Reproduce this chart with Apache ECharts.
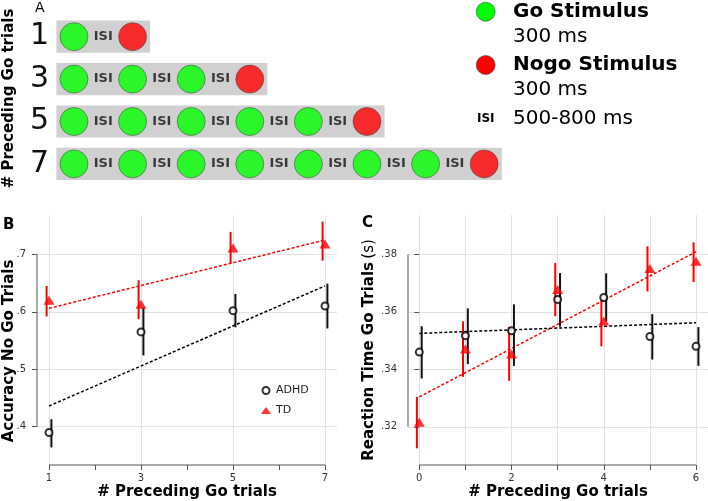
<!DOCTYPE html>
<html>
<head>
<meta charset="utf-8">
<script src="https://cdn.jsdelivr.net/npm/echarts@6.0.0/dist/echarts.min.js"></script>
<style>
html,body{margin:0;padding:0;background:#fff;}
#chart{width:708px;height:501px;}
</style>
</head>
<body>
<div id="chart"></div>
<script>
// panel A: trial sequences
var rowLabels = ['1', '3', '5', '7'];
var goCounts = [1, 3, 5, 7];

// panel B: accuracy on no-go trials
var accX = [1, 3, 5, 7];
var accAdhd = [0.390, 0.565, 0.602, 0.610];
var accAdhdLo = [0.364, 0.524, 0.573, 0.571];
var accAdhdHi = [0.413, 0.607, 0.631, 0.649];
var accTd = [0.620, 0.613, 0.711, 0.718];
var accTdLo = [0.592, 0.587, 0.684, 0.689];
var accTdHi = [0.645, 0.655, 0.739, 0.757];
var accFitX = [1, 7];
var accAdhdFit = [0.436, 0.645];
var accTdFit = [0.606, 0.725];
var accTicks = [0.4, 0.5, 0.6, 0.7];

// panel C: reaction time on go trials
var rtX = [0, 1, 2, 3, 4, 5, 6];
var rtAdhd = [0.3460, 0.3517, 0.3534, 0.3643, 0.3650, 0.3514, 0.3480];
var rtAdhdLo = [0.3368, 0.3418, 0.3412, 0.3548, 0.3567, 0.3434, 0.3412];
var rtAdhdHi = [0.3550, 0.3612, 0.3626, 0.3735, 0.3734, 0.3592, 0.3547];
var rtTd = [0.3216, 0.3471, 0.3453, 0.3678, 0.3568, 0.3751, 0.3776];
var rtTdLo = [0.3125, 0.3374, 0.3360, 0.3585, 0.3480, 0.3671, 0.3704];
var rtTdHi = [0.3304, 0.3567, 0.3548, 0.3770, 0.3643, 0.3828, 0.3842];
var rtFitX = [0, 6];
var rtAdhdFit = [0.3525, 0.3562];
var rtTdFit = [0.3304, 0.3809];
var rtTicks = [0.32, 0.34, 0.36, 0.38];

var FONT = 'DejaVu Sans';
var AXC = '#555';
var GRIDC = '#e2e2e2';

function zip(xs, ys) {
	return xs.map(function(x, i){ return [x, ys[i]]; });
}
function zip3(xs, lo, hi) {
	return xs.map(function(x, i){ return [x, lo[i], hi[i]]; });
}
function noZero(v) {
	return String(+v.toFixed(3)).replace(/^0/, '');
}

// sequences for panel A
var goData = [], nogoData = [], isiData = [], boxData = [];
rowLabels.forEach(function(lab, r){
	var n = goCounts[r];
	for (var i = 0; i < n; i++) {
		goData.push([i, r]);
		isiData.push([i + 0.5, r]);
	}
	nogoData.push([n, r]);
	boxData.push([n, r]);
});

function renderBox(params, api) {
	var n = api.value(0), r = api.value(1);
	var p0 = api.coord([-0.3, r]);
	var p1 = api.coord([n + 0.3, r]);
	var h = api.size([0, 1])[1] * 0.76;
	return {type:'rect', shape:{x:p0[0], y:p0[1] - h / 2, width:p1[0] - p0[0], height:h}, style:{fill:'#d0d0d0'}};
}

function errBar(dx, color) {
	return function(params, api){
		var x = api.value(0);
		var a = api.coord([x, api.value(1)]);
		var b = api.coord([x, api.value(2)]);
		return {type:'line', shape:{x1:a[0] + dx, y1:a[1], x2:b[0] + dx, y2:b[1]}, style:{stroke:color, lineWidth:2}};
	};
}

// axis lines that only span the first..last tick (R style)
function frameSeries(xi, yi, xs, ys, xMin, yMin) {
	var st = {type:'line', xAxisIndex:xi, yAxisIndex:yi, symbol:'none', silent:true, clip:false, z:1,
		lineStyle:{color:AXC, width:1, type:'solid'}};
	return [
		Object.assign({data:[[xs[0], yMin], [xs[xs.length - 1], yMin]]}, st),
		Object.assign({data:[[xMin, ys[0]], [xMin, ys[ys.length - 1]]]}, st)
	];
}

var B = {xMin:0.739, xMax:7.261, yMin:0.3334, yMax:0.7684};
var C = {xMin:-0.245, xMax:6.26, yMin:0.3067, yMax:0.3937};

var tickLabel = {fontFamily:FONT, fontSize:10, color:'#333'};
var axisTitle = {fontFamily:FONT, fontSize:15, fontWeight:'bold', color:'#000'};

var mychart = echarts.init(document.getElementById('chart'));
var option = {
	animation: false,
	textStyle: {fontFamily:FONT},
	grid: [
		{left:52, top:15.5, width:461.5, height:169.6},
		{left:37, right:371, top:215, bottom:36},
		{left:408, right:0, top:215, bottom:36}
	],
	legend: {
		data: ['ADHD', 'TD'],
		orient: 'vertical',
		left: 256,
		top: 380,
		itemWidth: 10,
		itemHeight: 7,
		itemGap: 9,
		selectedMode: false,
		textStyle: {fontFamily:FONT, fontSize:11, color:'#222'}
	},
	xAxis: [
		{gridIndex:0, type:'value', min:-0.375, max:7.5, show:false},
		{
			gridIndex:1, type:'value', position:'bottom', min:B.xMin, max:B.xMax,
			axisLine:{show:false},
			axisTick:{show:true, length:5, customValues:[1, 2, 3, 4, 5, 6, 7], lineStyle:{color:AXC}},
			axisLabel:{show:false},
			splitLine:{show:false}
		},
		{
			gridIndex:1, type:'value', position:'bottom', min:B.xMin, max:B.xMax,
			axisLine:{show:false},
			axisTick:{show:false, customValues:accX},
			axisLabel:Object.assign({customValues:accX, margin:8}, tickLabel),
			splitLine:{show:true, lineStyle:{color:GRIDC}},
			name:'# Preceding Go trials', nameLocation:'middle', nameGap:20,
			nameTextStyle:axisTitle
		},
		{
			gridIndex:2, type:'value', position:'bottom', min:C.xMin, max:C.xMax,
			axisLine:{show:false},
			axisTick:{show:true, length:5, customValues:rtX, lineStyle:{color:AXC}},
			axisLabel:Object.assign({customValues:[0, 2, 4, 6], margin:8}, tickLabel),
			splitLine:{show:true, lineStyle:{color:GRIDC}},
			name:'# Preceding Go trials', nameLocation:'middle', nameGap:20,
			nameTextStyle:axisTitle
		}
	],
	yAxis: [
		{
			gridIndex:0, type:'category', data:rowLabels, inverse:true,
			axisLine:{show:false}, axisTick:{show:false},
			axisLabel:{fontFamily:FONT, fontSize:30, color:'#111', margin:3},
			splitLine:{show:false}
		},
		{
			gridIndex:1, type:'value', min:B.yMin, max:B.yMax,
			axisLine:{show:false},
			axisTick:{show:true, length:5, customValues:accTicks, lineStyle:{color:AXC}},
			axisLabel:Object.assign({customValues:accTicks, margin:11, formatter:noZero}, tickLabel),
			splitLine:{show:true, lineStyle:{color:GRIDC}}
		},
		{
			gridIndex:2, type:'value', min:C.yMin, max:C.yMax,
			axisLine:{show:false},
			axisTick:{show:true, length:5, customValues:rtTicks, lineStyle:{color:AXC}},
			axisLabel:Object.assign({customValues:rtTicks, margin:11, formatter:noZero}, tickLabel),
			splitLine:{show:true, lineStyle:{color:GRIDC}}
		}
	],
	graphic: [
		{type:'text', left:35, top:1, style:{text:'A', font:'14px "DejaVu Sans"', fill:'#000'}},
		{type:'text', left:3, top:218, style:{text:'B', font:'bold 15px "DejaVu Sans"', fill:'#000'}},
		{type:'text', left:362, top:216, style:{text:'C', font:'bold 15px "DejaVu Sans"', fill:'#000'}},
		{type:'text', x:9, y:98.5, rotation:Math.PI / 2,
			style:{text:'# Preceding Go trials', font:'bold 15px "DejaVu Sans"', fill:'#000', align:'center', verticalAlign:'middle'}},
		{type:'text', x:9, y:351, rotation:Math.PI / 2,
			style:{text:'Accuracy No Go Trials', font:'bold 15px "DejaVu Sans"', fill:'#000', align:'center', verticalAlign:'middle'}},
		{type:'text', x:369, y:350, rotation:Math.PI / 2,
			style:{text:'{b|Reaction Time Go Trials} {n|(s)}', align:'center', verticalAlign:'middle', fill:'#000',
				rich:{b:{fontFamily:FONT, fontSize:15, fontWeight:'bold'}, n:{fontFamily:FONT, fontSize:15}}}},
		// legend of panel A
		{type:'circle', shape:{cx:485.7, cy:11.7, r:9.5}, style:{fill:'#00ff00', stroke:'#4a4a4a', lineWidth:0.6}},
		{type:'text', x:513, y:11.7, style:{text:'Go Stimulus', font:'bold 20px "DejaVu Sans"', fill:'#000', verticalAlign:'middle'}},
		{type:'text', x:513, y:37, style:{text:'300 ms', font:'20px "DejaVu Sans"', fill:'#000', verticalAlign:'middle'}},
		{type:'circle', shape:{cx:485.7, cy:65, r:9.5}, style:{fill:'#ff0000', stroke:'#4a4a4a', lineWidth:0.6}},
		{type:'text', x:513, y:64.5, style:{text:'Nogo Stimulus', font:'bold 20px "DejaVu Sans"', fill:'#000', verticalAlign:'middle'}},
		{type:'text', x:513, y:90, style:{text:'300 ms', font:'20px "DejaVu Sans"', fill:'#000', verticalAlign:'middle'}},
		{type:'text', x:485.7, y:118.5, style:{text:'ISI', font:'bold 12px "DejaVu Sans"', fill:'#000', align:'center', verticalAlign:'middle'}},
		{type:'text', x:513, y:118.5, style:{text:'500-800 ms', font:'20px "DejaVu Sans"', fill:'#000', verticalAlign:'middle'}}
	],
	series: [
		// panel A
		{type:'custom', xAxisIndex:0, yAxisIndex:0, renderItem:renderBox, data:boxData, silent:true, z:1},
		{type:'scatter', xAxisIndex:0, yAxisIndex:0, data:goData, symbolSize:28, silent:true, z:2,
			itemStyle:{color:'#00ff00', borderColor:'#4a4a4a', borderWidth:0.7}},
		{type:'scatter', xAxisIndex:0, yAxisIndex:0, data:nogoData, symbolSize:28, silent:true, z:2,
			itemStyle:{color:'#ff0000', borderColor:'#4a4a4a', borderWidth:0.7}},
		{type:'scatter', xAxisIndex:0, yAxisIndex:0, data:isiData, symbolSize:2, silent:true, z:3,
			itemStyle:{color:'rgba(0,0,0,0)'},
			label:{show:true, position:'inside', formatter:'ISI', fontFamily:FONT, fontSize:13, fontWeight:'bold', color:'#111'}}
	]
	.concat(frameSeries(2, 1, accX, accTicks, B.xMin, B.yMin))
	.concat([
		// panel B
		{type:'line', xAxisIndex:2, yAxisIndex:1, data:zip(accFitX, accTdFit), symbol:'none', silent:true, z:2,
			lineStyle:{color:'#ff0000', width:1.5, type:[3, 2]}},
		{type:'line', xAxisIndex:2, yAxisIndex:1, data:zip(accFitX, accAdhdFit), symbol:'none', silent:true, z:2,
			lineStyle:{color:'#000', width:1.5, type:[3, 2]}},
		{type:'custom', xAxisIndex:2, yAxisIndex:1, renderItem:errBar(-2.4, '#ff0000'), data:zip3(accX, accTdLo, accTdHi),
			encode:{x:0, y:[1, 2]}, silent:true, z:3},
		{type:'custom', xAxisIndex:2, yAxisIndex:1, renderItem:errBar(2.4, '#111'), data:zip3(accX, accAdhdLo, accAdhdHi),
			encode:{x:0, y:[1, 2]}, silent:true, z:3},
		{type:'scatter', name:'TD', xAxisIndex:2, yAxisIndex:1, data:zip(accX, accTd), symbol:'triangle', symbolSize:[11, 9], z:4,
			itemStyle:{color:'#ff0000'}},
		{type:'scatter', name:'ADHD', xAxisIndex:2, yAxisIndex:1, data:zip(accX, accAdhd), symbol:'circle', symbolSize:7, z:5,
			itemStyle:{color:'#ffffff', borderColor:'#000', borderWidth:2}}
	])
	.concat(frameSeries(3, 2, rtX, rtTicks, C.xMin, C.yMin))
	.concat([
		// panel C
		{type:'line', xAxisIndex:3, yAxisIndex:2, data:zip(rtFitX, rtTdFit), symbol:'none', silent:true, z:2,
			lineStyle:{color:'#ff0000', width:1.5, type:[3, 2]}},
		{type:'line', xAxisIndex:3, yAxisIndex:2, data:zip(rtFitX, rtAdhdFit), symbol:'none', silent:true, z:2,
			lineStyle:{color:'#000', width:1.5, type:[3, 2]}},
		{type:'custom', xAxisIndex:3, yAxisIndex:2, renderItem:errBar(-2.4, '#ff0000'), data:zip3(rtX, rtTdLo, rtTdHi),
			encode:{x:0, y:[1, 2]}, silent:true, z:3},
		{type:'custom', xAxisIndex:3, yAxisIndex:2, renderItem:errBar(2.4, '#111'), data:zip3(rtX, rtAdhdLo, rtAdhdHi),
			encode:{x:0, y:[1, 2]}, silent:true, z:3},
		{type:'scatter', name:'TD', xAxisIndex:3, yAxisIndex:2, data:zip(rtX, rtTd), symbol:'triangle', symbolSize:[11, 9], z:4,
			itemStyle:{color:'#ff0000'}},
		{type:'scatter', name:'ADHD', xAxisIndex:3, yAxisIndex:2, data:zip(rtX, rtAdhd), symbol:'circle', symbolSize:7, z:5,
			itemStyle:{color:'#ffffff', borderColor:'#000', borderWidth:2}}
	])
};
mychart.setOption(option, true);
</script>
</body>
</html>
